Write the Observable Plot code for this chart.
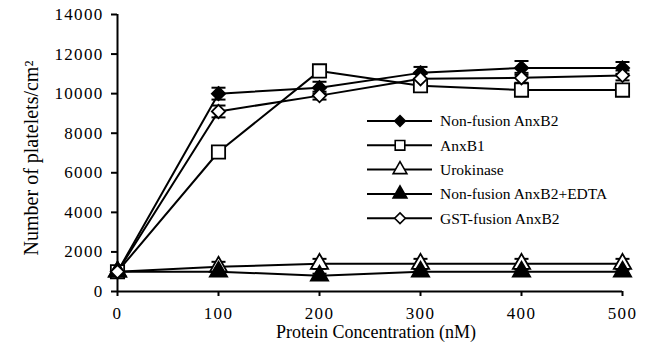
<!DOCTYPE html>
<html>
<head>
<meta charset="utf-8">
<script src="https://cdn.jsdelivr.net/npm/d3@7"></script>
<script src="https://cdn.jsdelivr.net/npm/@observablehq/plot@0.6"></script>
<style>
  html, body { margin: 0; padding: 0; background: white; }
  #wrap { position: relative; width: 646px; height: 346px; }
  #overlay { position: absolute; left: 0; top: 0; }
</style>
</head>
<body>
<div id="wrap"></div>
<script>
// ---- data ----
const concentrations = [0, 100, 200, 300, 400, 500];
const seriesNames = ["Non-fusion AnxB2", "AnxB1", "Urokinase", "Non-fusion AnxB2+EDTA", "GST-fusion AnxB2"];
const nonFusion    = [1000, 10000, 10300, 11050, 11300, 11300];
const anxB1        = [1000, 7050, 11150, 10400, 10180, 10180];
const urokinase    = [1000, 1250, 1400, 1400, 1400, 1400];
const edta         = [1000, 1000, 800, 1000, 1000, 1000];
const gstFusion    = [1000, 9100, 9900, 10750, 10800, 10920];
const nonFusionErr = [0, 300, 300, 300, 350, 300];
const anxB1Err     = [0, 300, 300, 300, 300, 300];
const urokinaseErr = [0, 250, 250, 250, 250, 250];
const edtaErr      = [0, 100, 100, 100, 100, 100];
const gstFusionErr = [0, 300, 200, 250, 250, 250];
const xTicks = [0, 100, 200, 300, 400, 500];
const yTicks = [0, 2000, 4000, 6000, 8000, 10000, 12000, 14000];
const xLabel = "Protein Concentration (nM)";
const yLabel = "Number of platelets/cm²";

// ---- styles ----
const seriesValues = [nonFusion, anxB1, urokinase, edta, gstFusion];
const seriesErrs = [nonFusionErr, anxB1Err, urokinaseErr, edtaErr, gstFusionErr];
const symbols = ["diamond2", "square", "triangle", "triangle", "diamond2"];
const fills = ["black", "white", "white", "black", "white"];
const radii = [6, 7.5, 6.4, 6.4, 6];

const rows = [];
seriesNames.forEach((s, i) => {
  concentrations.forEach((c, j) => {
    rows.push({series: s, idx: i, x: c, y: seriesValues[i][j], err: seriesErrs[i][j]});
  });
});
const errRows = rows.filter(d => d.err > 0);

const cap = {draw(ctx) { ctx.moveTo(-7, 0); ctx.lineTo(7, 0); }};
const font = "'Liberation Serif', 'Times New Roman', serif";

const marks = [
  Plot.axisY({ticks: yTicks, tickSize: 6, tickPadding: 8, tickFormat: d => String(d), label: null, strokeWidth: 2, fontSize: 17}),
  Plot.axisX({ticks: xTicks, tickSize: 5, tickPadding: 10, tickFormat: d => String(d), label: null, strokeWidth: 2, fontSize: 17}),
  Plot.ruleX([0], {stroke: "black", strokeWidth: 2}),
  Plot.ruleY([0], {stroke: "black", strokeWidth: 2}),
  Plot.line(rows, {x: "x", y: "y", z: "series", stroke: "black", strokeWidth: 2}),
  Plot.ruleX(errRows, {x: "x", y1: d => d.y - d.err, y2: d => d.y + d.err, stroke: "black", strokeWidth: 1.5}),
  Plot.dot(errRows, {x: "x", y: d => d.y - d.err, symbol: cap, r: 5, stroke: "black", strokeWidth: 2, fill: "none"}),
  Plot.dot(errRows, {x: "x", y: d => d.y + d.err, symbol: cap, r: 5, stroke: "black", strokeWidth: 2, fill: "none"})
];
seriesNames.forEach((s, i) => {
  marks.push(Plot.dot(rows.filter(d => d.idx === i), {
    x: "x", y: "y", symbol: symbols[i], r: radii[i], fill: fills[i], stroke: "black", strokeWidth: 1.8
  }));
});

const chart = Plot.plot({
  width: 646, height: 346,
  marginLeft: 117, marginRight: 24, marginTop: 14, marginBottom: 55,
  x: {domain: [0, 500]},
  y: {domain: [0, 14000]},
  style: {fontFamily: font, fontSize: "17px", background: "white", color: "black"},
  marks
});
d3.select(chart).selectAll("text")
  .style("font-family", font)
  .style("letter-spacing", "1.3px");
const wrap = document.getElementById("wrap");
wrap.appendChild(chart);

// ---- overlay: axis titles and legend ----
const ov = d3.select(wrap).append("svg").attr("id", "overlay")
  .attr("width", 646).attr("height", 346)
  .style("font-family", font);
ov.append("text").attr("transform", "translate(31,158) rotate(-90)")
  .attr("text-anchor", "middle").attr("dy", "0.35em")
  .style("font-size", "20px").text(yLabel);
ov.append("text").attr("x", 376).attr("y", 338)
  .attr("text-anchor", "middle")
  .style("font-size", "18px").text(xLabel);

const symMap = {diamond2: d3.symbolDiamond2, square: d3.symbolSquare, triangle: d3.symbolTriangle};
seriesNames.forEach((s, i) => {
  const yy = 121 + i * 24.3;
  const g = ov.append("g");
  g.append("line").attr("x1", 367).attr("x2", 432).attr("y1", yy).attr("y2", yy)
    .attr("stroke", "black").attr("stroke-width", 2);
  const scale = (symbols[i] === "square") ? 0.72 : 0.8;
  g.append("path").attr("d", d3.symbol(symMap[symbols[i]], Math.PI * (radii[i] * scale) ** 2)())
    .attr("transform", `translate(400,${yy})`)
    .attr("fill", fills[i]).attr("stroke", "black").attr("stroke-width", 1.6);
  g.append("text").attr("x", 440).attr("y", yy).attr("dy", "0.35em")
    .style("font-size", "15.5px").text(s);
});
</script>
</body>
</html>
